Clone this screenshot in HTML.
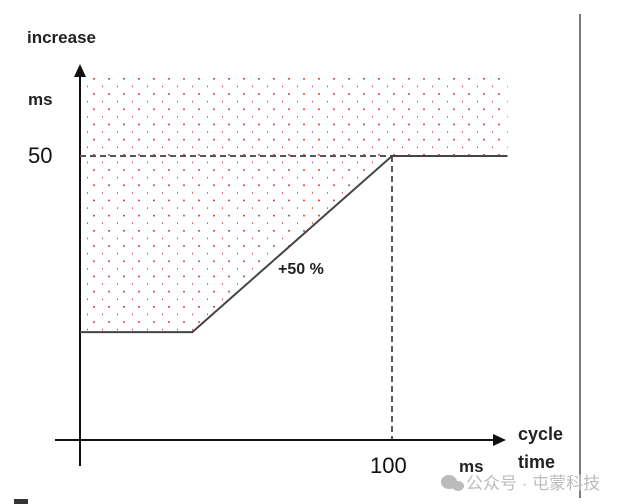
<!DOCTYPE html>
<html><head><meta charset="utf-8"><style>
body{margin:0;background:#fff;}
svg{display:block;font-family:"Liberation Sans","Noto Sans CJK SC",sans-serif;}
</style></head><body>
<svg id="chart" width="628" height="504" viewBox="0 0 628 504">
<defs>
<pattern id="dots" x="87" y="78" width="15" height="15.2" patternUnits="userSpaceOnUse">
<circle cx="7" cy="0.8" r="0.9" fill="#e02020"/>
<circle cx="0" cy="8.4" r="0.9" fill="#e02020"/>
</pattern>
</defs>
<line x1="580" y1="14" x2="580" y2="498" stroke="#222" stroke-width="1.2"/>
<path id="region" fill="url(#dots)"/>
<line x1="55" y1="440" x2="496" y2="440" stroke="#111" stroke-width="2"/>
<polygon points="506,440 493,434 493,446" fill="#111"/>
<line x1="80" y1="466" x2="80" y2="74" stroke="#111" stroke-width="2"/>
<polygon points="80,64 74,77 86,77" fill="#111"/>
<line id="h50" stroke="#555" stroke-width="2" stroke-dasharray="6,4"/>
<line id="v100" stroke="#222" stroke-width="1.5" stroke-dasharray="6,4"/>
<polyline id="curve" fill="none" stroke="#444" stroke-width="2"/>
<text x="27" y="43" font-size="17" font-weight="bold" fill="#222">increase</text>
<text x="28" y="105" font-size="17" font-weight="bold" fill="#222">ms</text>
<text x="28" y="163" font-size="22" fill="#111">50</text>
<text x="370" y="473" font-size="22" fill="#111">100</text>
<text x="459" y="472" font-size="17" font-weight="bold" fill="#222">ms</text>
<text x="518" y="440" font-size="18" font-weight="bold" fill="#222">cycle</text>
<text x="518" y="468" font-size="18" font-weight="bold" fill="#222">time</text>
<text x="278" y="274" font-size="16" font-weight="bold" fill="#222">+50 %</text>
<g fill="#bbb">
<ellipse cx="449" cy="482" rx="8" ry="7"/><ellipse cx="458" cy="486" rx="6" ry="5"/>
<text x="466" y="489" font-size="17">公众号 · 屯蒙科技</text>
</g>
<rect x="14" y="499" width="14" height="5" fill="#333"/>
</svg>
<script>
const xKnots=[0,36,100,137];
const yKnots=[19,19,50,50];
const limitValue=[50];
const cycleValue=[100];
const regionTop=[64];
const X0=80,XS=3.12,Y0=440,YS=5.68;
const sx=v=>X0+v*XS, sy=v=>Y0-v*YS;
const pts=xKnots.map((x,i)=>sx(x)+','+sy(yKnots[i]));
document.getElementById('curve').setAttribute('points',pts.join(' '));
let d='M'+sx(0)+','+sy(regionTop[0])+' L'+sx(xKnots[3])+','+sy(regionTop[0]);
for(let i=xKnots.length-1;i>=0;i--) d+=' L'+sx(xKnots[i])+','+sy(yKnots[i]);
document.getElementById('region').setAttribute('d',d+' Z');
const h=document.getElementById('h50');
h.setAttribute('x1',sx(0));h.setAttribute('x2',sx(cycleValue[0]));
h.setAttribute('y1',sy(limitValue[0]));h.setAttribute('y2',sy(limitValue[0]));
const v=document.getElementById('v100');
v.setAttribute('x1',sx(cycleValue[0]));v.setAttribute('x2',sx(cycleValue[0]));
v.setAttribute('y1',sy(limitValue[0]));v.setAttribute('y2',Y0);
</script>
</body></html>
